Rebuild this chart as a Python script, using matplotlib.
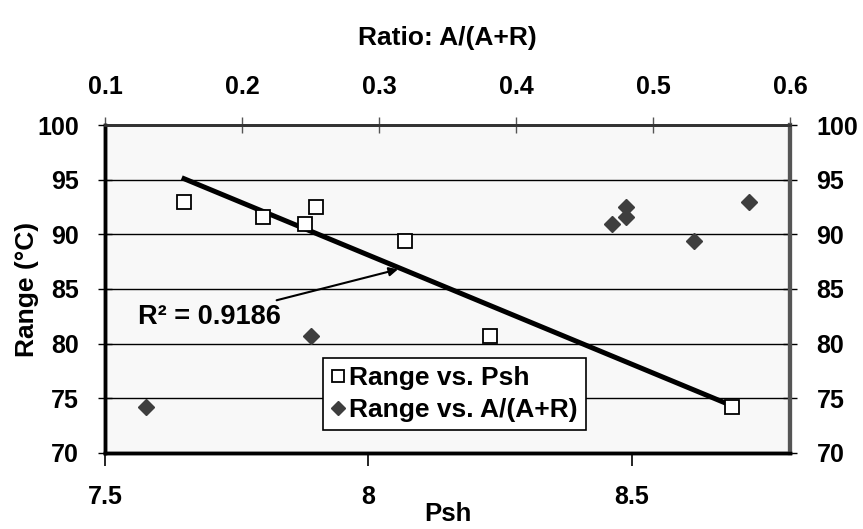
import numpy as np
import matplotlib
matplotlib.use("Agg")
import matplotlib.pyplot as plt

plt.rcParams['font.family'] = ['Liberation Sans', 'DejaVu Sans']
plt.rcParams['font.weight'] = 'bold'

# --- data ---
psh = [7.65, 7.80, 7.88, 7.90, 8.07, 8.23, 8.69]
ratio = [0.57, 0.48, 0.47, 0.48, 0.53, 0.25, 0.13]
temp_range = [93.0, 91.6, 90.9, 92.5, 89.4, 80.7, 74.2]
r2_label = 'R² = 0.9186'

# linear trend of Range vs. Psh
slope, intercept = np.polyfit(psh, temp_range, 1)
trend_x = np.array([min(psh), max(psh)])
trend_y = slope * trend_x + intercept

fig = plt.figure(figsize=(8.63, 5.29), dpi=100)
ax = fig.add_axes([0.1217, 0.1437, 0.7937, 0.62])
ax.set_facecolor('#f8f8f8')

ax2 = ax.twiny()

sq, = ax.plot(psh, temp_range, linestyle='none', marker='s', markersize=10,
              markerfacecolor='white', markeredgecolor='black', markeredgewidth=1.3,
              label='Range vs. Psh', zorder=4)
ax.plot(trend_x, trend_y, color='black', linewidth=3.6, zorder=3)

dm, = ax2.plot(ratio, temp_range, linestyle='none', marker='D', markersize=8.3,
               color='#3e3e3e', label='Range vs. A/(A+R)', zorder=4)

ax.set_xlim(7.5, 8.8)
ax.set_ylim(70, 100)
ax2.set_xlim(0.1, 0.6)

ax.set_xticks([7.5, 8, 8.5])
ax.set_xticklabels(['7.5', '8', '8.5'])
ax.set_yticks(np.arange(70, 101, 5))
ax2.set_xticks(np.arange(0.1, 0.61, 0.1))
ax2.set_xticklabels(['0.1', '0.2', '0.3', '0.4', '0.5', '0.6'])

ax.yaxis.grid(True, color='black', linewidth=1)
ax.set_axisbelow(True)

ax.yaxis.set_ticks_position('both')
ax.tick_params(axis='y', direction='inout', length=10, width=1, labelsize=18,
               labelright=True, pad=14)
ax.tick_params(axis='x', direction='out', length=9, width=1.2, labelsize=18, pad=14)
ax2.tick_params(axis='x', direction='inout', length=12, width=1, labelsize=18, pad=13,
                color='#555555')

for a in (ax, ax2):
    a.spines['left'].set_linewidth(2.5)
    a.spines['bottom'].set_linewidth(2.5)
    a.spines['top'].set_linewidth(2.0)
    a.spines['top'].set_color('#333333')
    a.spines['right'].set_linewidth(3.0)
    a.spines['right'].set_color('#555555')

ax.set_xlabel('Psh', fontsize=18.5, fontweight='bold')
ax.xaxis.set_label_coords(0.5, -0.150)
ax.set_ylabel('Range (°C)', fontsize=19, fontweight='bold')
ax.yaxis.set_label_coords(-0.097, 0.5)
ax2.set_xlabel('Ratio: A/(A+R)', fontsize=19, fontweight='bold')
ax2.xaxis.set_label_coords(0.5, 1.245)

ax.annotate(r2_label, xy=(8.056, 86.8), xytext=(7.5625, 82.4),
            fontsize=19.5, fontweight='bold', va='center', ha='left',
            arrowprops=dict(arrowstyle='-|>', color='black', lw=1.5,
                            shrinkA=4, shrinkB=0, mutation_scale=13))

leg = ax.legend(handles=[sq, dm], loc='lower left', bbox_to_anchor=(0.299, 0.030),
                fontsize=19, frameon=True, fancybox=False, edgecolor='black',
                framealpha=1, handlelength=0.5, handletextpad=0.2,
                borderpad=0.3, labelspacing=0.3, markerscale=0.8)
leg.get_frame().set_linewidth(1.2)
leg.set_zorder(10)

fig.savefig('out.png', dpi=100)
